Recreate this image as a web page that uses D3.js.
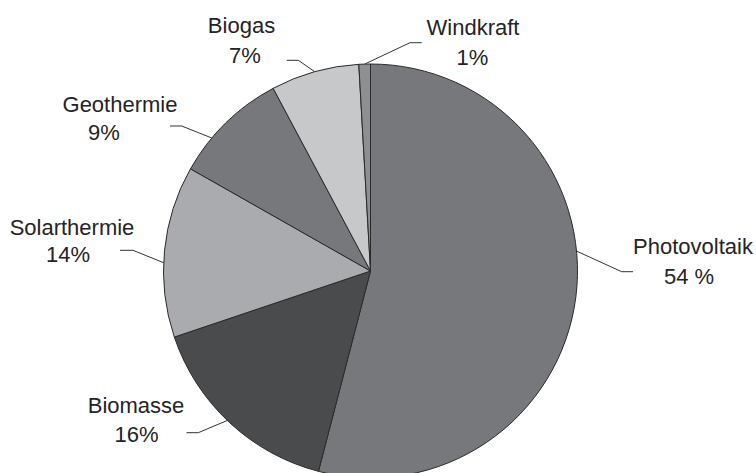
<!DOCTYPE html>
<html>
<head>
<meta charset="utf-8">
<script src="https://cdn.jsdelivr.net/npm/d3@7"></script>
<style>
  html, body { margin: 0; padding: 0; background: #fff; }
  svg { display: block; }
  text { font-family: "Liberation Sans", Arial, sans-serif; font-size: 22px; fill: #262324; }
</style>
</head>
<body>
<svg id="chart" width="756" height="473"></svg>
<script>
// ---- data ----
const categories = ["Photovoltaik", "Biomasse", "Solarthermie", "Geothermie", "Biogas", "Windkraft"];
const values = [54.1, 15.8, 13.4, 9.0, 6.9, 0.9];
const percentLabels = ["54 %", "16%", "14%", "9%", "7%", "1%"];

// ---- styles / layout ----
const colors = ["#77787c", "#4a4b4d", "#aaabae", "#77787c", "#c7c8ca", "#8e8f92"];
const cx = 370.5, cy = 271, radius = 207;
// label layout: angle nudge (deg) for leader start, elbow point, end point, name & pct text anchors
const labelLayout = [
  { nudge: -12.8, elbow: [621.7, 271.7], end: [633, 271.7], name: [693, 254], pct: [689, 284] },
  { nudge: 0.8,  elbow: [198.3, 432.7], end: [186.5, 432.7], name: [136, 413], pct: [136.5, 442] },
  { nudge: -3.2, elbow: [133, 250.3], end: [120, 250.3], name: [72, 235], pct: [68, 262] },
  { nudge: -5.8, elbow: [181.7, 126], end: [170, 126], name: [120, 112], pct: [104, 140] },
  { nudge: 0,    elbow: [298.3, 60.3], end: [286.7, 60.3], name: [241.5, 33], pct: [245, 62.5] },
  { nudge: 0,    elbow: [410, 42.7], end: [421.7, 42.7], name: [473, 35], pct: [472.5, 65] }
];

const rows = categories.map((c, i) => ({ name: c, value: values[i], pct: percentLabels[i], color: colors[i], layout: labelLayout[i] }));

const svg = d3.select("#chart");
const g = svg.append("g").attr("transform", `translate(${cx},${cy})`);

const pie = d3.pie().sort(null).value(d => d.value).startAngle(0).endAngle(2 * Math.PI);
const arcs = pie(rows);
const arc = d3.arc().innerRadius(0).outerRadius(radius);

g.selectAll("path.slice")
  .data(arcs)
  .join("path")
  .attr("class", "slice")
  .attr("d", arc)
  .attr("fill", d => d.data.color)
  .attr("stroke", "#2a2a2a")
  .attr("stroke-width", 1)
  .attr("stroke-linejoin", "round");

// leader lines
const line = d3.line();
svg.selectAll("path.leader")
  .data(arcs)
  .join("path")
  .attr("class", "leader")
  .attr("d", d => {
    const a = (d.startAngle + d.endAngle) / 2 + d.data.layout.nudge * Math.PI / 180;
    const p0 = [cx + radius * Math.sin(a), cy - radius * Math.cos(a)];
    return line([p0, d.data.layout.elbow, d.data.layout.end]);
  })
  .attr("fill", "none")
  .attr("stroke", "#333")
  .attr("stroke-width", 1);

// labels
const lg = svg.append("g");
rows.forEach(r => {
  lg.append("text").attr("x", r.layout.name[0]).attr("y", r.layout.name[1])
    .attr("text-anchor", "middle").text(r.name);
  lg.append("text").attr("x", r.layout.pct[0]).attr("y", r.layout.pct[1])
    .attr("text-anchor", "middle").text(r.pct);
});
</script>
</body>
</html>
